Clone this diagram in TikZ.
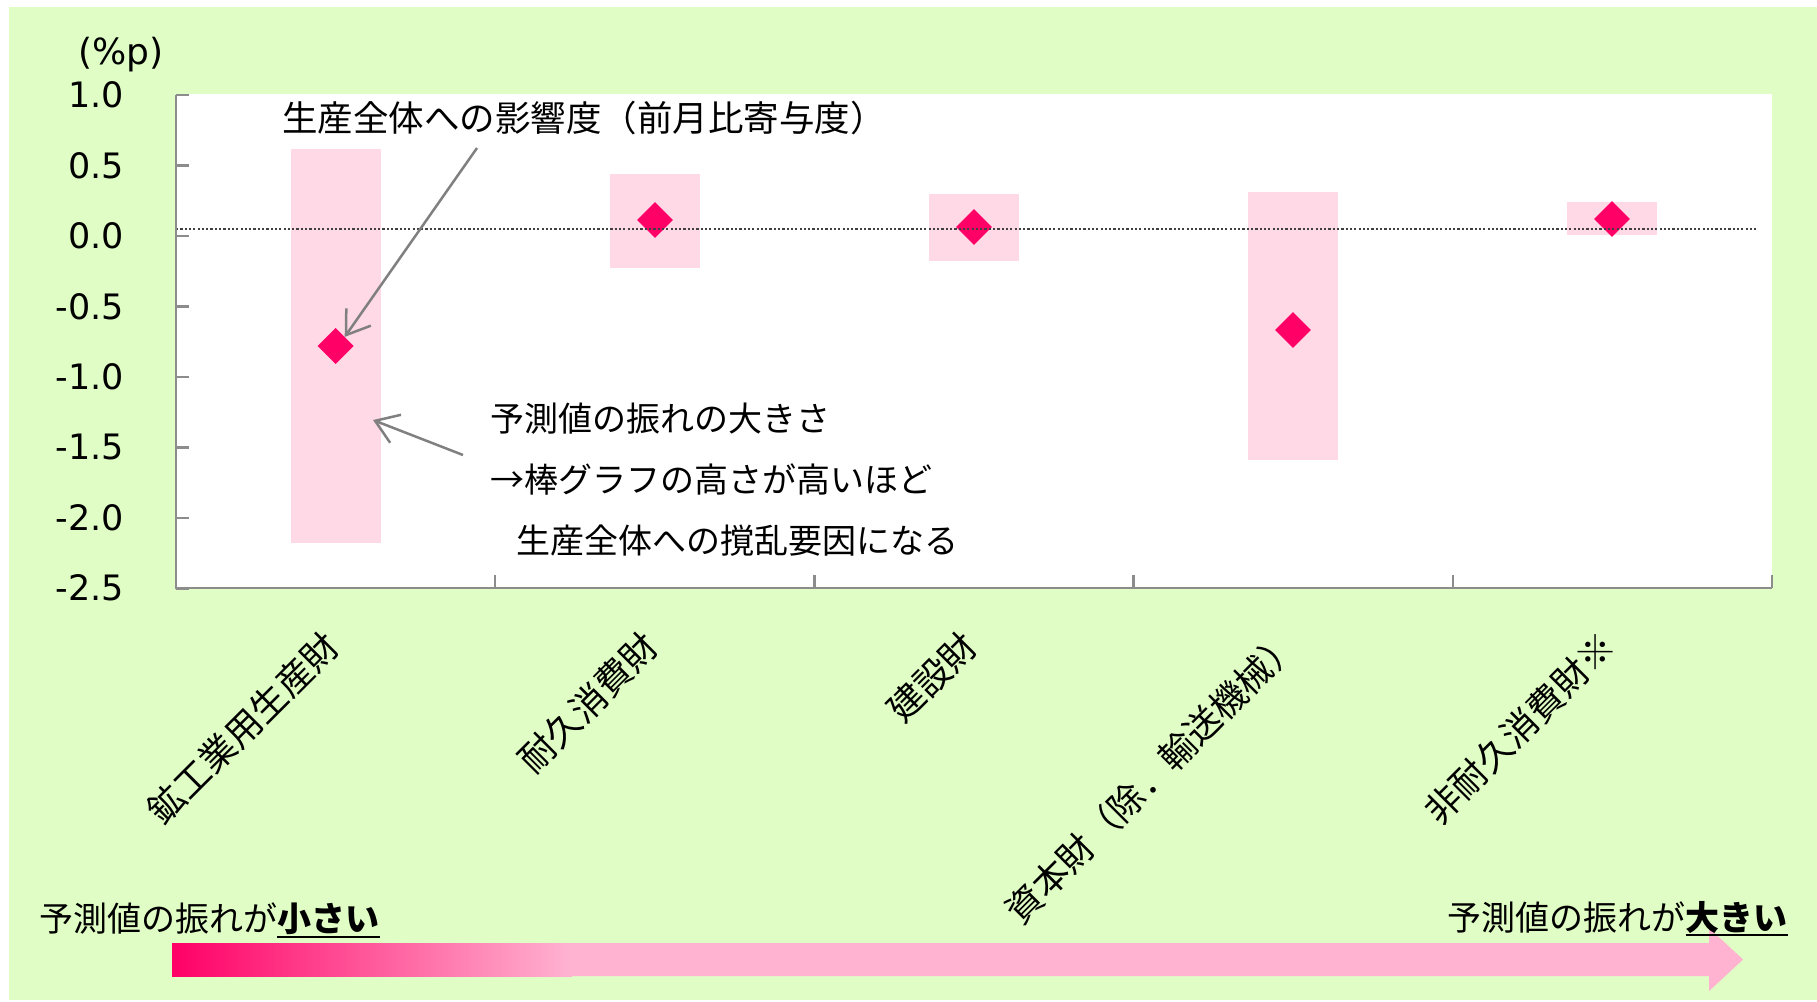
\documentclass[tikz,border=0pt]{standalone}
\usepackage{fontspec}
\setmainfont{DejaVu Sans}
\newfontfamily\jp{Noto Sans CJK JP}
\usetikzlibrary{arrows.meta,shapes.geometric}
\definecolor{bggreen}{HTML}{E0FDC5}
\definecolor{barpink}{HTML}{FFD9E6}
\definecolor{deeppink}{HTML}{FF0066}
\definecolor{lightpink}{HTML}{FFB3D1}
\definecolor{axisgray}{HTML}{8C8C8C}
\definecolor{annogray}{HTML}{808080}
\definecolor{dotgray}{HTML}{404040}
\begin{document}
\begin{tikzpicture}[x=1pt,y=-1pt,
  ticklab/.style={font=\fontsize{35}{40}\selectfont, anchor=east, inner sep=0pt},
  jptext/.style={font=\jp\fontsize{34}{40}\selectfont, inner sep=0pt, anchor=base west},
  catlab/.style={font=\jp\fontsize{36}{40}\selectfont, inner sep=0pt, anchor=north east, rotate=45},
  barbox/.style={fill=barpink},
  diam/.style={diamond, fill=deeppink, minimum width=36pt, minimum height=36pt, inner sep=0pt},
  axisline/.style={draw=axisgray, line width=2.5pt},
  anno/.style={draw=annogray, line width=2.5pt, -{Straight Barb[length=22pt,width=30pt]}},
]
\useasboundingbox (0,0) rectangle (1817,1001);
\fill[white] (0,0) rectangle (1817,1001);
\fill[bggreen] (9,7) rectangle (1817,1000);
% plot area
\fill[white] (176,94) rectangle (1772,588);
% bars
\fill[barbox] (290.6,149) rectangle (380.6,543);
\fill[barbox] (610,174) rectangle (700,268);
\fill[barbox] (929,193.5) rectangle (1019,261);
\fill[barbox] (1248,192) rectangle (1338,460);
\fill[barbox] (1567,201.7) rectangle (1657,234.7);
% diamonds
\node[diam] (d1) at (335.6,346) {};
\node[diam] (d2) at (655,220) {};
\node[diam] (d3) at (974,227) {};
\node[diam] (d4) at (1293,330) {};
\node[diam] (d5) at (1612,219) {};
% dotted average line
\draw[dotgray, line width=2.2pt, dash pattern=on 2.2pt off 2.1pt] (176,229) -- (1757,229);
% axes
\draw[axisline] (176,95) -- (176,588) -- (1772,588);
\foreach \v in {1.0,0.5,0,-0.5,-1.0,-1.5,-2.0,-2.5}
  \draw[axisline] (176,{236-140.9*\v}) -- (189,{236-140.9*\v});
\foreach \xx in {495.2,814.4,1133.6,1452.8,1772}
  \draw[axisline] (\xx,588) -- (\xx,575);
% tick labels
\foreach \v/\t [count=\i] in {1.0/1.0,0.5/0.5,0/0.0,-0.5/-0.5,-1.0/-1.0,-1.5/-1.5,-2.0/-2.0,-2.5/-2.5}
  \node[ticklab] (yl\i) at (124,{236-140.9*\v}) {\t};
\node[font=\fontsize{36}{40}\selectfont, inner sep=0pt] (unit) at (121,55) {(\%p)};
% annotations
\node[jptext, font=\jp\fontsize{35.5}{40}\selectfont] (ann1) at (282,131) {生産全体への影響度（前月比寄与度）};
\coordinate (a1s) at (477,148);
\draw[anno] (a1s) -- (d1.north east);
\node[jptext] (t1) at (490,431) {予測値の振れの大きさ};
\node[jptext] (t2) at (490,492) {→棒グラフの高さが高いほど};
\node[jptext] (t3) at (516,553) {生産全体への撹乱要因になる};
\coordinate (a2s) at (463,455);
\coordinate (a2e) at (373,420);
\draw[anno] (a2s) -- (a2e);
% category labels
\node[catlab] (c1) at (320.6,627) {鉱工業用生産財};
\node[catlab] (c2) at (640,627) {耐久消費財};
\node[catlab] (c3) at (959,627) {建設財};
\node[catlab] (c4) at (1280,624) {資本財（除．輸送機械）};
\node[catlab] (c5) at (1597,627) {非耐久消費財※};
% gradient arrow
\fill[lightpink] (172,943) -- (1709,943) -- (1709,928) -- (1743,959.5) -- (1709,991) -- (1709,976) -- (172,976) -- cycle;
\shade[left color=deeppink, right color=lightpink] (172,943) rectangle (572,976);
% bottom texts
\node[jptext] (bl) at (39,931) {予測値の振れが};
\node[jptext, font=\jp\bfseries\fontsize{34}{40}\selectfont] (blb) at (bl.base east) {小さい};
\draw[line width=2pt] ([yshift=-6pt]blb.base west) -- ([yshift=-6pt]blb.base east);
\node[jptext, anchor=base east, font=\jp\bfseries\fontsize{34}{40}\selectfont] (brb) at (1788,930) {大きい};
\node[jptext, anchor=base east] (br) at (brb.base west) {予測値の振れが};
\draw[line width=2pt] ([yshift=-5pt]brb.base west) -- ([yshift=-5pt]brb.base east);
\end{tikzpicture}
\end{document}
